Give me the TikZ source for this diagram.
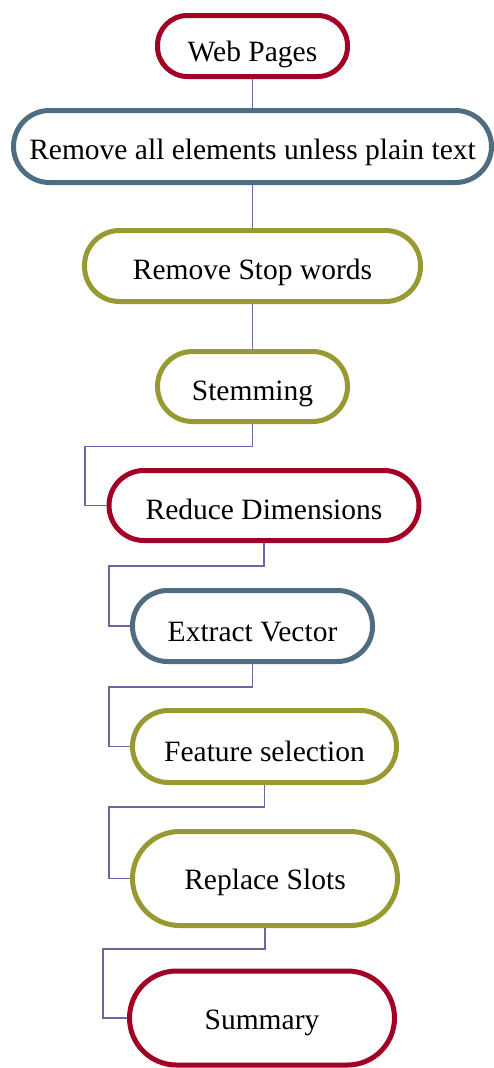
\documentclass[tikz,border=0pt]{standalone}
\usepackage{fontspec}
\setmainfont{Liberation Serif}
\definecolor{cred}{HTML}{A20025}
\definecolor{cblue}{HTML}{4E6D80}
\definecolor{colive}{HTML}{999933}
\definecolor{cline}{HTML}{6868A2}
\tikzset{
  pill/.style={draw, line width=5pt, fill=white, rounded corners=#1, inner sep=0pt,
    font=\fontsize{29.5}{35}\selectfont, align=center, text depth=0pt},
  redpill/.style={pill=30pt, draw=cred},
  bluepill/.style={pill=30pt, draw=cblue},
  olivepill/.style={pill=30pt, draw=colive},
  conn/.style={draw=cline, line width=1.4pt},
}
\begin{document}
\begin{tikzpicture}[x=1pt,y=1pt]
\useasboundingbox (0,0) rectangle (493,-1068);
\node[redpill, minimum width=190, minimum height=61, text height=31.5pt] (web) at (252.5,-46) {Web Pages};
\node[bluepill, minimum width=478, minimum height=72, rounded corners=36pt, text height=26.5pt] (rem) at (252.5,-146.5) {Remove all elements unless plain text};
\node[olivepill, minimum width=336, minimum height=71, rounded corners=35pt, text height=27.5pt] (stop) at (252.5,-266) {Remove Stop words};
\node[olivepill, minimum width=190, minimum height=70, rounded corners=35pt, text height=28.5pt] (stem) at (252.5,-386.5) {Stemming};
\node[redpill, minimum width=310, minimum height=70, rounded corners=35pt, text height=28.5pt] (red) at (264,-505.5) {Reduce Dimensions};
\node[bluepill, minimum width=240, minimum height=71, rounded corners=35pt, text height=31pt] (ext) at (252.5,-626) {Extract Vector};
\node[olivepill, minimum width=264, minimum height=72, rounded corners=36pt, text height=30.5pt] (feat) at (264.5,-746.5) {Feature selection};
\node[olivepill, minimum width=265, minimum height=94, rounded corners=47pt, text height=21.5pt] (rep) at (265,-878.5) {Replace Slots};
\node[redpill, minimum width=265, minimum height=94, rounded corners=47pt, text height=22.5pt] (sum) at (262,-1018) {Summary};
\coordinate (j1) at (85,-446.5);
\coordinate (j2) at (109,-566);
\coordinate (j3) at (109,-687);
\coordinate (j4) at (109,-807);
\coordinate (j5) at (103,-949);
\draw[conn] (web.south) -- (rem.north);
\draw[conn] (rem.south) -- (stop.north);
\draw[conn] (stop.south) -- (stem.north);
\draw[conn] (stem.south) |- (j1) |- (red.west);
\draw[conn] (red.south) |- (j2) |- (ext.west);
\draw[conn] (ext.south) |- (j3) |- (feat.west);
\draw[conn] (feat.south) |- (j4) |- (rep.west);
\draw[conn] (rep.south) |- (j5) |- (sum.west);
\end{tikzpicture}
\end{document}
